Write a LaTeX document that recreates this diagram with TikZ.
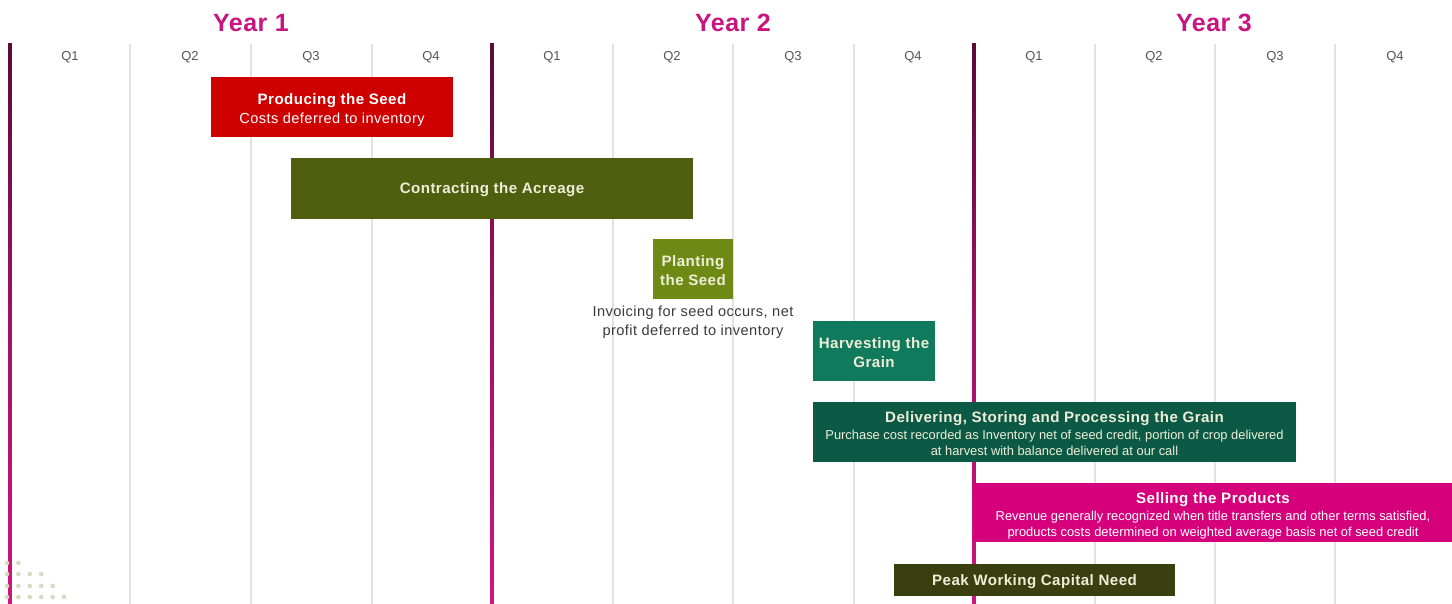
\documentclass[tikz,border=0pt]{standalone}
\usepackage{fontspec}
\setmainfont{Liberation Sans}
\newfontfamily\bxfont[LetterSpace=3]{Liberation Sans}
\newfontfamily\yrfont[LetterSpace=2]{Liberation Sans}
\newcommand\bxtitle{\fontsize{7.55}{9.5}\selectfont\bxfont\bfseries}
\newcommand\bxsub{\fontsize{7.3}{9.5}\selectfont\bxfont\mdseries}
\newcommand\bxsmall{\fontsize{6.45}{8}\selectfont\rmfamily\mdseries}
\definecolor{yearmag}{HTML}{C8157F}
\definecolor{linetop}{HTML}{5A0B3A}
\definecolor{linebot}{HTML}{D0157F}
\definecolor{gridgray}{HTML}{E2E2E2}
\definecolor{qgray}{HTML}{555555}
\definecolor{cred}{HTML}{CF0000}
\definecolor{colive}{HTML}{4F5E0F}
\definecolor{cplant}{HTML}{6E8A14}
\definecolor{charv}{HTML}{0F7A5C}
\definecolor{cdeliv}{HTML}{0C5A45}
\definecolor{csell}{HTML}{D6007C}
\definecolor{cpeak}{HTML}{393F0E}
\definecolor{cream}{HTML}{EEEED8}
\definecolor{dotc}{HTML}{DADAC4}
\tikzset{
  barbox/.style={inner sep=0pt, draw=none},
  bar/.style={inner sep=0pt, align=center, font=\fontsize{7.5}{9.5}\selectfont},
  yearlbl/.style={font=\yrfont\fontsize{12.5}{14}\selectfont\bfseries, text=yearmag},
  qlbl/.style={font=\fontsize{6.5}{8}\selectfont, text=qgray},
  grid/.style={draw=gridgray, line width=0.8pt},
  dot/.style={fill=dotc, draw=none},
}
\begin{document}
\begin{tikzpicture}[x=0.5pt,y=-0.5pt]
\useasboundingbox (0,0) rectangle (1452,604);
\fill[white] (0,0) rectangle (1452,604);
% quarter grid lines
\foreach \x in {130,251,372,613,733,854,1095,1215,1335}
  \draw[grid] (\x,44) -- (\x,604);
% year lines (gradient)
\foreach \x in {10,492,974}
  \shade[top color=linetop, bottom color=linebot, middle color=linebot!60!linetop] (\x-1.8,44) rectangle (\x+1.8,604);
% year labels
\node[yearlbl] (y1) at (251,23) {Year 1};
\node[yearlbl] (y2) at (733,23) {Year 2};
\node[yearlbl] (y3) at (1214,23) {Year 3};
% quarter labels
\foreach \y/\xo in {1/0,2/482,3/964}{
  \node[qlbl] (q\y a) at (70+\xo,57) {Q1};
  \node[qlbl] (q\y b) at (190+\xo,57) {Q2};
  \node[qlbl] (q\y c) at (311+\xo,57) {Q3};
  \node[qlbl] (q\y d) at (431+\xo,57) {Q4};
}
% dots
\foreach \r/\n in {563/2,574/4,586/5,597/6}{
  \foreach \i in {1,...,\n}
    \fill[dot] ({7+(\i-1)*11.4},\r) circle (2.3);
}
% boxes
\node[barbox, fill=cred, minimum width=121pt, minimum height=30pt] (seed) at (332,107) {};
\node[bar, text=white] (seedtxt) at ([yshift=-1.5pt]seed.center)
  {\bxtitle Producing the Seed\\\bxsub Costs deferred to inventory};
\node[barbox, fill=colive, minimum width=201pt, minimum height=30.5pt] (acre) at (492,188.5) {};
\node[bar, text=cream] (acretxt) at ([yshift=-0.5pt]acre.center)
  {\bxtitle Contracting the Acreage};
\node[barbox, fill=cplant, minimum width=40pt, minimum height=30pt] (plant) at (693,269) {};
\node[bar, text=cream] (planttxt) at ([yshift=-1pt]plant.center)
  {\bxtitle Planting\\\bxtitle the Seed};
\node[bar, text=qgray!70!black] (invoice) at (693,322.5)
  {\bxsub Invoicing for seed occurs, net\\\bxsub profit deferred to inventory};
\node[barbox, fill=charv, minimum width=61pt, minimum height=30pt] (harv) at (874,351) {};
\node[bar, text=cream] (harvtxt) at ([yshift=-0.6pt]harv.center)
  {\bxtitle Harvesting the\\\bxtitle Grain};
\node[barbox, fill=cdeliv, minimum width=241.5pt, minimum height=30pt] (deliv) at (1054.5,432) {};
\node[bar, text=cream] (delivtxt) at ([yshift=-0.8pt]deliv.center)
  {\bxtitle Delivering, Storing and Processing the Grain\\[-0.6pt]
   \bxsmall Purchase cost recorded as Inventory net of seed credit, portion of crop delivered\\[-1.5pt]
   \bxsmall at harvest with balance delivered at our call};
\node[barbox, fill=csell, minimum width=239pt, minimum height=29.5pt] (sell) at (1213,512.5) {};
\node[bar, text=white] (selltxt) at ([yshift=-1.7pt]sell.center)
  {\bxtitle Selling the Products\\[-0.6pt]
   \bxsmall Revenue generally recognized when title transfers and other terms satisfied,\\[-1.5pt]
   \bxsmall products costs determined on weighted average basis net of seed credit};
\node[barbox, fill=cpeak, minimum width=140.5pt, minimum height=16pt] (peak) at (1034.5,580) {};
\node[bar, text=cream] (peaktxt) at ([yshift=-1pt]peak.center)
  {\bxtitle Peak Working Capital Need};
\end{tikzpicture}
\end{document}
